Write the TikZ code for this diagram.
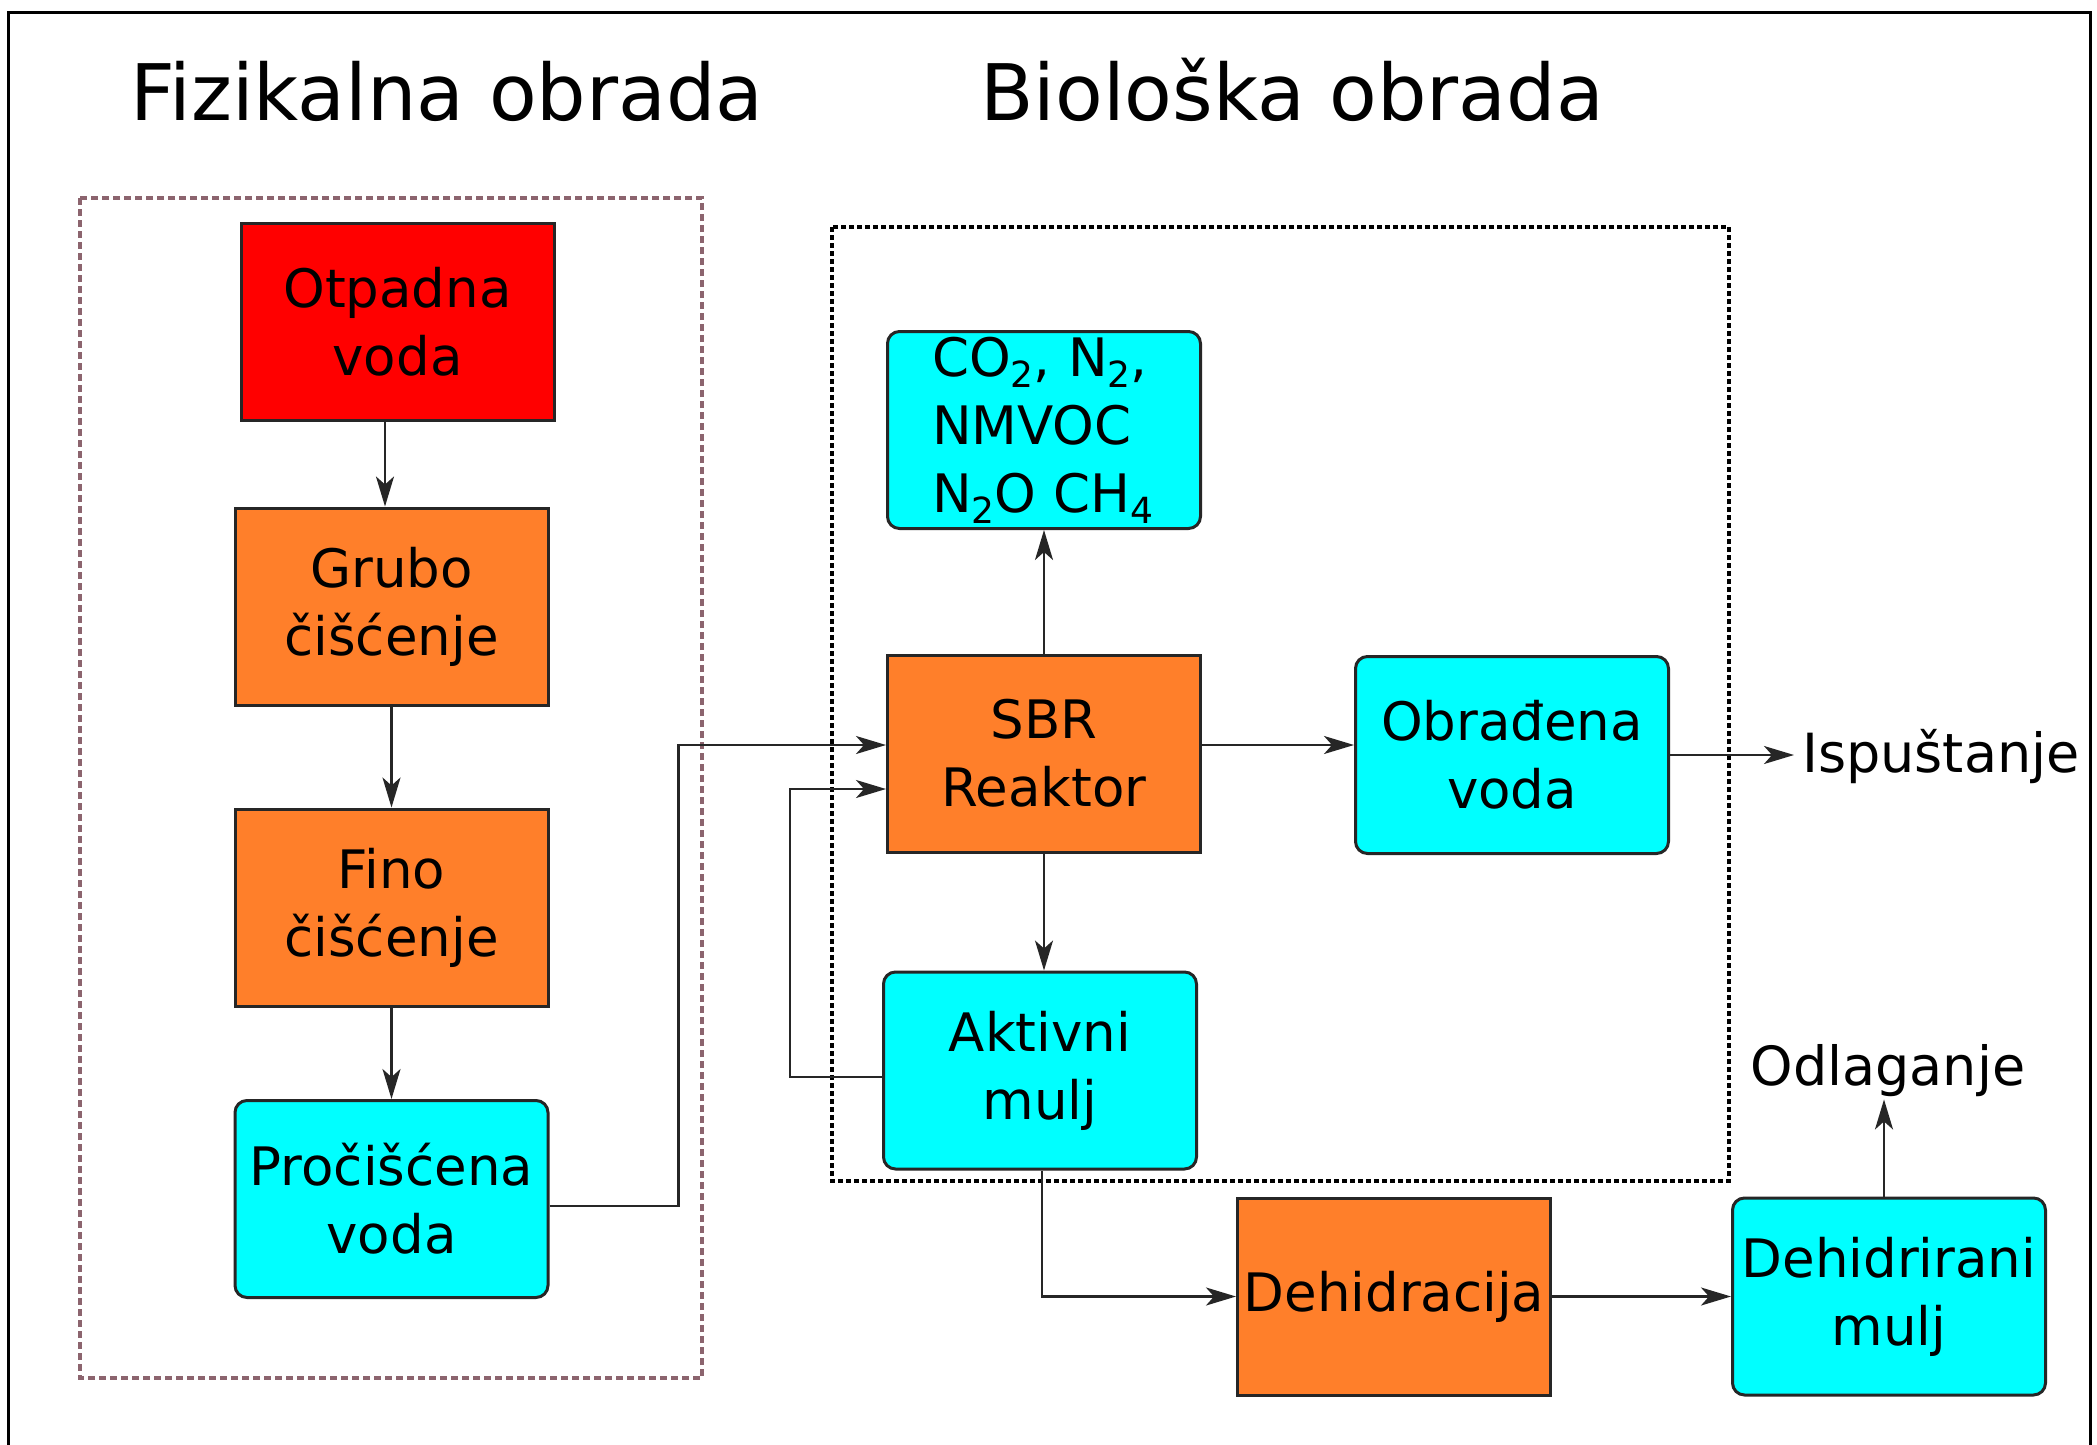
\documentclass[tikz,border=0pt]{standalone}
\usepackage{fontspec}
\setmainfont{DejaVu Sans}
\usetikzlibrary{arrows.meta}
\definecolor{orng}{RGB}{255,127,42}
\definecolor{cyn}{RGB}{0,255,255}
\definecolor{rd}{RGB}{255,0,0}
\definecolor{mauve}{RGB}{140,100,110}
\newcommand\sbs[1]{\raisebox{-11pt}{\fontsize{36}{36}\selectfont #1}}
\begin{document}
\begin{tikzpicture}[x=1pt,y=-1pt,
  box/.style={draw=black!85, line width=3pt, minimum width=313pt, minimum height=197pt, inner sep=0pt, align=center, font=\fontsize{53}{68}\selectfont},
  sqbox/.style={box, fill=orng},
  cybox/.style={box, fill=cyn, rounded corners=12pt},
  arr/.style={line width=2.4pt, black!85, -{Stealth[length=30pt,width=18pt,inset=8pt]}},
  lbl/.style={inner sep=0pt, font=\fontsize{54}{68}\selectfont},
  ttl/.style={inner sep=0pt, anchor=base west, font=\fontsize{78}{90}\selectfont}]
\useasboundingbox (0,0) rectangle (2097,1445);
\fill[white] (0,0) rectangle (2097,1445);
% frame
\draw[line width=3pt] (8,1460) -- (8,13) -- (2090,13) -- (2090,1460);
% group boxes
\draw[mauve, line width=3.5pt, dash pattern=on 7pt off 4pt] (80,198) rectangle (702,1378);
\draw[black, line width=3.5pt, dash pattern=on 5pt off 3pt] (832,227) rectangle (1729,1181);
% titles
\node[ttl] (t1) at (130,120) {Fizikalna obrada};
\node[ttl] (t2) at (980,120) {Biološka obrada};
% nodes
\node[box, fill=rd] (otp) at (397.5,322) {Otpadna\\voda};
\node[sqbox] (grubo) at (391.5,606.5) {Grubo\\čišćenje};
\node[sqbox] (fino) at (391.5,907.5) {Fino\\čišćenje};
\node[cybox] (proc) at (391.5,1199) {Pročišćena\\voda};
\node[cybox, align=left, text width=224pt] (co2) at (1044,430) {CO\sbs{2}, N\sbs{2},\\NMVOC\\N\sbs{2}O CH\sbs{4}};
\node[sqbox] (sbr) at (1044,753.5) {SBR\\Reaktor};
\node[cybox] (obr) at (1512,755) {Obrađena\\voda};
\node[cybox] (akt) at (1040,1070.5) {Aktivni\\mulj};
\node[sqbox] (deh) at (1394,1296.5) {Dehidracija};
\node[cybox] (dmulj) at (1889,1296.5) {Dehidrirani\\mulj};
\node[lbl, anchor=base west] (isp) at (1802,772) {Ispuštanje};
\node[lbl, anchor=base] (odl) at (1888,1085) {Odlaganje};
% connectors
\coordinate (a1) at ([xshift=-12.5pt]otp.south);
\draw[arr] (a1) -- (a1 |- grubo.north);
\draw[arr] (grubo.south) -- (fino.north);
\draw[arr] (fino.south) -- (proc.north);
\draw[arr] ([yshift=-7pt]proc.east) -- ++(129,0) |- ([yshift=8.5pt]sbr.west);
\draw[arr] ([yshift=-6.5pt]akt.west) -- ++(-92,0) |- ([yshift=-35.5pt]sbr.west);
\draw[arr] (sbr.north) -- (co2.south);
\draw[arr] ([yshift=8.5pt]sbr.east) -- ([yshift=10pt]obr.west);
\draw[arr] (sbr.south) -- (sbr.south |- akt.north);
\draw[arr, shorten >=8pt] (obr.east) -- (obr.east -| isp.west);
\draw[arr] ([xshift=2pt]akt.south) |- (deh.west);
\draw[arr] (deh.east) -- (dmulj.west);
\coordinate (dm) at ([xshift=-5pt]dmulj.north);
\draw[arr, shorten >=3pt] (dm) -- (dm |- odl.south);
\end{tikzpicture}
\end{document}
